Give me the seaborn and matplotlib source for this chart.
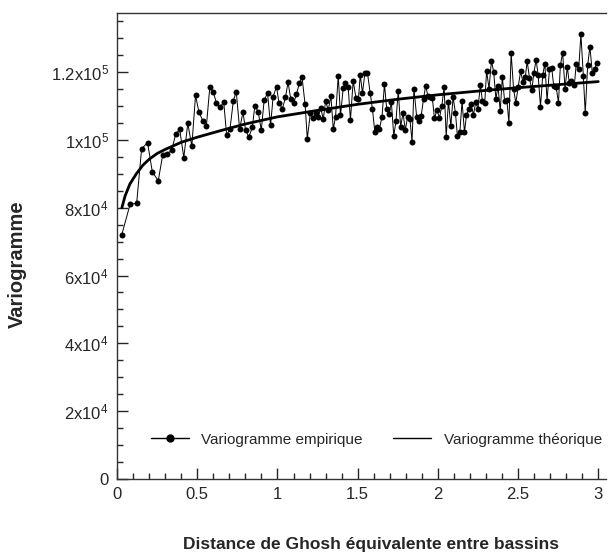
import matplotlib
matplotlib.use("Agg")
import numpy as np
import pandas as pd
import seaborn as sns
import matplotlib.pyplot as plt
from matplotlib.lines import Line2D
from matplotlib.ticker import MultipleLocator, FuncFormatter

dist_emp = [0.029, 0.081, 0.122, 0.153, 0.19, 0.22, 0.257, 0.284, 0.31, 0.34, 0.365, 0.39,
            0.416, 0.441, 0.466, 0.489, 0.51, 0.534, 0.557, 0.578, 0.6, 0.619, 0.642, 0.665,
            0.683, 0.704, 0.725, 0.743, 0.764, 0.785, 0.801, 0.822, 0.843, 0.859, 0.88, 0.899,
            0.917, 0.938, 0.957, 0.973, 0.994, 1.01, 1.031, 1.05, 1.066, 1.083, 1.101, 1.118,
            1.137, 1.153, 1.172, 1.186, 1.205, 1.221, 1.238, 1.255, 1.269, 1.286, 1.3, 1.317,
            1.333, 1.348, 1.362, 1.379, 1.393, 1.41, 1.424, 1.441, 1.455, 1.472, 1.489, 1.505,
            1.516, 1.53, 1.545, 1.561, 1.578, 1.592, 1.607, 1.621, 1.636, 1.652, 1.667, 1.681,
            1.696, 1.71, 1.725, 1.739, 1.753, 1.768, 1.783, 1.797, 1.812, 1.826, 1.839, 1.851,
            1.868, 1.882, 1.896, 1.911, 1.924, 1.938, 1.952, 1.965, 1.979, 1.994, 2.01, 2.025,
            2.039, 2.052, 2.066, 2.081, 2.095, 2.11, 2.122, 2.137, 2.151, 2.166, 2.178, 2.193,
            2.207, 2.222, 2.236, 2.25, 2.265, 2.278, 2.292, 2.304, 2.319, 2.334, 2.348, 2.362,
            2.375, 2.389, 2.402, 2.416, 2.43, 2.443, 2.457, 2.472, 2.486, 2.501, 2.516, 2.53,
            2.545, 2.557, 2.571, 2.586, 2.598, 2.613, 2.625, 2.64, 2.654, 2.667, 2.681, 2.696,
            2.71, 2.722, 2.737, 2.752, 2.764, 2.778, 2.793, 2.807, 2.82, 2.832, 2.851, 2.863,
            2.878, 2.892, 2.907, 2.919, 2.934, 2.948, 2.963, 2.977, 2.992]
gamma_emp = [72000, 81000, 81300, 97400, 99200, 90500, 88000, 95500, 95900, 96900, 101600, 103200,
             94800, 104900, 98100, 113100, 108300, 105700, 104200, 115500, 114000, 111000, 109600, 111200,
             101400, 103200, 111600, 114200, 103200, 108200, 102900, 100900, 103700, 110000, 108300, 102900,
             111700, 113800, 104300, 112800, 115700, 110800, 109200, 112600, 117000, 112000, 110800, 113500,
             116700, 118500, 110600, 100400, 107800, 106600, 107800, 106800, 109400, 106200, 111400, 108900,
             112900, 103200, 106800, 118900, 107200, 115300, 116700, 115500, 105900, 117400, 112500, 112100,
             119200, 113800, 119700, 119800, 113800, 109200, 102300, 103900, 103300, 106900, 116500, 109100,
             107500, 111200, 101200, 105600, 114500, 103900, 107900, 102900, 106900, 106100, 99500, 115100,
             106700, 105700, 107100, 112200, 116000, 112900, 112700, 112500, 106400, 108800, 106500, 110000,
             115700, 101000, 111300, 104100, 112700, 107800, 101100, 102200, 111400, 102200, 107200, 109100,
             110600, 107400, 111100, 109200, 116200, 111500, 110800, 120400, 115100, 123300, 120100, 112100,
             115900, 108500, 118600, 111600, 111900, 105100, 125700, 115000, 110900, 115700, 120200, 117200,
             118500, 123200, 118300, 114700, 119700, 123600, 119200, 109800, 119200, 122500, 111600, 120900,
             121200, 116000, 115700, 111000, 122000, 125700, 115100, 121500, 116700, 117500, 116300, 122400,
             120900, 131100, 118900, 107900, 122000, 127500, 119800, 121000, 122600]

# fitted (theoretical) variogram
dist_th = [0.03, 0.05, 0.08, 0.12, 0.16, 0.2, 0.25, 0.3, 0.4, 0.5, 0.65, 0.8, 1.0,
           1.25, 1.5, 1.75, 2.0, 2.25, 2.5, 2.75, 3.0]
gamma_th = [80000, 83500, 87000, 90000, 92500, 94300, 96000, 97200, 99300, 100800, 102800,
            104700, 106800, 108700, 110500, 112000, 113300, 114400, 115400, 116300, 117200]

emp = pd.DataFrame({"d": dist_emp, "g": gamma_emp})
th = pd.DataFrame({"d": dist_th, "g": gamma_th})

sns.set_style("ticks")
plt.rcParams["font.family"] = ["Liberation Sans", "DejaVu Sans"]
plt.rcParams["mathtext.fontset"] = "custom"
plt.rcParams["mathtext.rm"] = "Liberation Sans"
plt.rcParams["mathtext.default"] = "regular"

fig = plt.figure(figsize=(6.13, 5.55), dpi=100)
ax = fig.add_axes([0.191, 0.137, 0.798, 0.840])

sns.lineplot(data=emp, x="d", y="g", ax=ax, color="black", lw=0.7,
             marker="o", markersize=4.3, markeredgewidth=0, sort=False)
sns.lineplot(data=th, x="d", y="g", ax=ax, color="black", lw=2.0)

ax.set_xlim(0, 3.05)
ax.set_ylim(0, 137500)
ax.xaxis.set_major_locator(MultipleLocator(0.5))
ax.xaxis.set_minor_locator(MultipleLocator(0.1))
ax.yaxis.set_major_locator(MultipleLocator(20000))
ax.yaxis.set_minor_locator(MultipleLocator(5000))


def xfmt(v, pos):
    return f"{v:g}"


def yfmt(v, pos):
    if v <= 0:
        return "0"
    e = int(np.floor(np.log10(v)))
    m = v / 10 ** e
    return f"{m:g}x10$^{{{e}}}$"


ax.xaxis.set_major_formatter(FuncFormatter(xfmt))
ax.yaxis.set_major_formatter(FuncFormatter(yfmt))
ax.tick_params(which="major", direction="in", length=8, width=1, labelsize=12, pad=6)
ax.tick_params(which="minor", direction="in", length=4, width=1)
ax.spines["right"].set_visible(False)
for s in ["left", "bottom", "top"]:
    ax.spines[s].set_linewidth(1)
    ax.spines[s].set_color("#333333")

ax.set_xlabel("Distance de Ghosh équivalente entre bassins", fontsize=12.5,
              fontweight="bold")
ax.set_ylabel("Variogramme", fontsize=14.5, fontweight="bold")
ax.xaxis.set_label_coords(0.519, -0.125)
ax.yaxis.set_label_coords(-0.185, 0.461)

handles = [Line2D([], [], color="black", lw=1, marker="o", markersize=5),
           Line2D([], [], color="black", lw=1)]
ax.legend(handles, ["Variogramme empirique", "Variogramme théorique"], ncol=2,
          loc="center", bbox_to_anchor=(0.53, 0.084), frameon=False, fontsize=11,
          handlelength=2.5, columnspacing=2.0)

fig.savefig("out.png", dpi=100)
